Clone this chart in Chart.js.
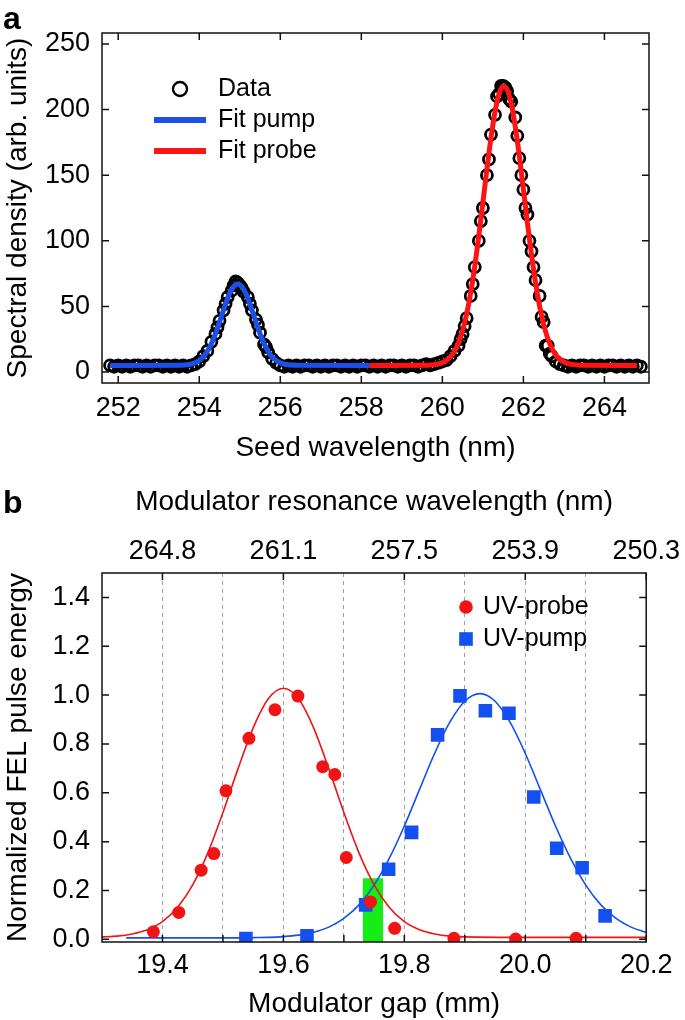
<!DOCTYPE html>
<html><head><meta charset="utf-8">
<script src="https://cdn.jsdelivr.net/npm/chart.js@4.4.1/dist/chart.umd.min.js"></script>
<style>
html,body{margin:0;padding:0;background:#fff;}
body{width:685px;height:1020px;position:relative;overflow:hidden;}
.wrap{position:absolute;left:0;width:685px;}
#w1{top:0;height:475px;}
#w2{top:480px;height:540px;}
.tag{position:absolute;left:3px;font:bold 32px 'Liberation Sans',Arial,sans-serif;line-height:32px;color:#000;}
</style></head><body>
<div class="wrap" id="w1"><canvas id="c1" width="685" height="475"></canvas></div>
<div class="wrap" id="w2"><canvas id="c2" width="685" height="540"></canvas></div>
<div class="tag" style="top:2px">a</div>
<div class="tag" style="top:486px">b</div>
<script>
// ---------- Panel a data ----------
const specWavelength = [251.8,251.9,252.0,252.1,252.2,252.3,252.4,252.5,252.6,252.7,252.8,252.9,253.0,253.1,253.2,253.3,253.4,253.5,253.6,253.7,253.8,253.9,
254.0,254.1,254.2,254.3,254.4,254.45,254.5,254.6,254.65,254.7,254.8,254.85,254.9,254.95,255.0,255.05,255.1,255.2,255.25,255.3,255.4,255.45,255.5,255.6,255.65,255.7,255.8,255.9,
256.0,256.1,256.2,256.3,256.4,256.5,256.6,256.7,256.8,256.9,257.0,257.1,257.2,257.3,257.4,257.5,257.6,257.7,257.8,257.9,258.0,258.1,258.2,258.3,258.4,258.5,258.6,258.7,258.8,258.9,259.0,259.1,259.2,259.3,259.4,259.5,259.6,259.7,
259.8,259.9,260.0,260.1,260.2,260.3,260.4,260.45,260.5,260.55,260.6,260.7,260.75,260.8,260.9,260.95,261.0,261.1,261.15,261.2,261.3,261.35,261.4,261.45,261.5,261.55,261.6,261.65,261.7,261.8,261.85,261.9,261.95,262.0,262.05,262.1,262.15,262.2,262.25,262.3,262.4,262.45,262.5,262.55,262.6,262.65,262.7,262.8,262.9,263.0,
263.1,263.2,263.3,263.4,263.5,263.6,263.7,263.8,263.9,264.0,264.1,264.2,264.3,264.4,264.5,264.6,264.7,264.8,264.9];
const specDensity = [5,4,5,4,5,4,5,5,4,5,4,5,5,4,5,4,5,4,5,4,5,6,
8,12,16,23,29,34,39,47,52,57,62,66,69,68,66,64,61,57,52,47,40,36,30,21,19,15,10,7,
5,4,5,4,5,4,5,5,4,5,4,5,4,5,5,4,5,4,5,4,5,5,4,5,4,5,4,5,5,4,5,4,5,5,4,5,6,5,
6,7,8,9,12,16,20,25,29,35,41,58,67,80,100,115,125,150,162,181,196,210,212,218,218,217,214,208,206,194,180,163,150,139,125,120,100,92,80,70,58,42,38,20,20,14,12,8,6,5,
4,5,4,5,5,4,5,4,5,4,5,5,4,5,4,5,4,5,4];

const pumpFitWavelength = [251.8,253.5,253.7,253.8,253.9,254.0,254.1,254.2,254.3,254.4,254.5,254.6,254.7,254.8,254.9,254.95,255.0,255.1,255.2,255.3,255.4,255.5,255.6,255.7,255.8,255.9,256.0,256.1,256.2,256.4,258.2];
const pumpFitDensity = [5.0,5.1,5.5,6.0,7.0,8.7,11.5,15.7,21.6,29.1,37.9,47.3,56.0,62.8,66.5,67.0,66.5,62.8,56.0,47.3,37.9,29.1,21.6,15.7,11.5,8.7,7.0,6.0,5.5,5.1,5.0];

const probeFitWavelength = [258.2,259.5,259.7,259.8,259.9,260.0,260.1,260.2,260.3,260.4,260.5,260.6,260.7,260.8,260.9,261.0,261.1,261.2,261.3,261.4,261.5,261.6,261.7,261.8,261.9,262.0,262.1,262.2,262.3,262.4,262.5,262.6,262.7,262.8,262.9,263.0,263.1,263.2,263.4,264.8];
const probeFitDensity = [5.0,5.1,5.3,5.6,6.1,7.1,8.8,11.5,15.9,22.3,31.6,44.2,60.5,80.5,103.7,129.0,154.7,178.5,198.4,212.0,217.8,215.3,204.6,187.0,164.5,139.3,113.7,89.5,68.1,50.3,36.2,25.7,18.1,13.0,9.7,7.7,6.4,5.8,5.2,5.0];

const seedTicks = [252,254,256,258,260,262,264];
const seedTickLabels = ['252','254','256','258','260','262','264'];
const densityTicks = [0,50,100,150,200,250];
const densityTickLabels = ['0','50','100','150','200','250'];

// ---------- Panel b data ----------
const probeGap = [19.385,19.427,19.464,19.485,19.505,19.543,19.586,19.624,19.665,19.685,19.704,19.744,19.784,19.882,19.984,20.084];
const probeEnergy = [0.031,0.110,0.283,0.351,0.608,0.823,0.940,0.996,0.707,0.675,0.335,0.153,0.045,0.004,0.001,0.004];
const pumpGap = [19.538,19.639,19.736,19.774,19.812,19.855,19.892,19.934,19.973,20.014,20.052,20.094,20.132];
const pumpEnergy = [0.003,0.014,0.141,0.287,0.438,0.837,0.997,0.936,0.926,0.583,0.373,0.293,0.096];

const probeFitGap = [19.30,19.325,19.35,19.375,19.40,19.425,19.45,19.475,19.50,19.525,19.55,19.575,19.60,19.625,19.65,19.675,19.70,19.725,19.75,19.775,19.80,19.825,19.85,19.875,19.90,20.00,20.20];
const probeFitEnergy = [0.010,0.013,0.022,0.039,0.072,0.131,0.223,0.354,0.519,0.699,0.866,0.985,1.028,0.985,0.866,0.699,0.519,0.354,0.223,0.131,0.072,0.039,0.022,0.013,0.010,0.008,0.008];
const pumpFitGap = [19.34,19.50,19.525,19.55,19.575,19.60,19.625,19.65,19.675,19.70,19.725,19.75,19.775,19.80,19.825,19.85,19.875,19.90,19.925,19.95,19.975,20.00,20.025,20.05,20.075,20.10,20.125,20.15,20.175,20.20];
const pumpFitEnergy = [0.006,0.006,0.006,0.007,0.008,0.011,0.017,0.029,0.050,0.086,0.141,0.222,0.331,0.464,0.613,0.761,0.888,0.975,1.006,0.975,0.888,0.761,0.613,0.464,0.331,0.222,0.141,0.086,0.050,0.029];

const bandGap = [19.731,19.765];
const bandEnergy = [0.25,0.25];

const gapTicks = [19.4,19.5,19.6,19.7,19.8,19.9,20.0,20.1,20.2];
const gapTickLabels = ['19.4','','19.6','','19.8','','20.0','','20.2'];
const resonanceTickPos = [19.4,19.6,19.8,20.0,20.2];
const resonanceTickLabels = ['264.8','261.1','257.5','253.9','250.3'];
const energyTicks = [0,0.2,0.4,0.6,0.8,1.0,1.2,1.4];
const energyTickLabels = ['0.0','0.2','0.4','0.6','0.8','1.0','1.2','1.4'];

// ---------- helpers ----------
const FONT = "'Liberation Sans', Arial, sans-serif";
Chart.defaults.font.family = FONT;
Chart.defaults.color = '#000';
const pts = (xs, ys) => xs.map((x, i) => ({x: x, y: ys[i]}));

const frameTicks = {
  id: 'frameTicks',
  afterDatasetsDraw(chart, args, o) {
    const {ctx, chartArea: a} = chart;
    const xs = chart.scales[o.xScale], ys = chart.scales[o.yScale];
    ctx.save();
    ctx.strokeStyle = '#111';
    ctx.lineWidth = o.lineWidth;
    ctx.beginPath();
    (o.bottom || []).forEach(v => { const x = xs.getPixelForValue(v); ctx.moveTo(x, a.bottom); ctx.lineTo(x, a.bottom - o.len); });
    (o.top || []).forEach(v => { const x = xs.getPixelForValue(v); ctx.moveTo(x, a.top); ctx.lineTo(x, a.top + o.len); });
    (o.left || []).forEach(v => { const y = ys.getPixelForValue(v); ctx.moveTo(a.left, y); ctx.lineTo(a.left + o.len, y); });
    (o.right || []).forEach(v => { const y = ys.getPixelForValue(v); ctx.moveTo(a.right, y); ctx.lineTo(a.right - o.len, y); });
    ctx.stroke();
    ctx.strokeRect(a.left, a.top, a.right - a.left, a.bottom - a.top);
    ctx.restore();
  }
};

const boxLegend = {
  id: 'boxLegend',
  afterDraw(chart, args, o) {
    if (!o || !o.items) return;
    const ctx = chart.ctx;
    ctx.save();
    ctx.font = o.fontSize + 'px ' + FONT;
    ctx.textBaseline = 'middle';
    ctx.textAlign = 'left';
    o.items.forEach((it, k) => {
      const ds = chart.data.datasets[it.ds];
      const y = o.y0 + k * o.dy;
      if (it.marker === 'line') {
        ctx.strokeStyle = ds.borderColor; ctx.lineWidth = o.lineWidth;
        ctx.beginPath(); ctx.moveTo(o.mx - o.lineHalf, y); ctx.lineTo(o.mx + o.lineHalf, y); ctx.stroke();
      } else if (it.marker === 'openCircle') {
        ctx.strokeStyle = '#000'; ctx.lineWidth = 2.4;
        ctx.beginPath(); ctx.arc(o.mx, y, o.r, 0, Math.PI * 2); ctx.stroke();
      } else if (it.marker === 'dot') {
        ctx.fillStyle = ds.pointBackgroundColor;
        ctx.beginPath(); ctx.arc(o.mx, y, o.r, 0, Math.PI * 2); ctx.fill();
      } else if (it.marker === 'square') {
        ctx.fillStyle = ds.pointBackgroundColor;
        ctx.fillRect(o.mx - o.r, y - o.r, 2 * o.r, 2 * o.r);
      }
      ctx.fillStyle = '#000';
      ctx.fillText(ds.label, o.tx, y);
    });
    ctx.restore();
  }
};

const BLUE_A = '#1c50e8', RED_A = '#ff1414';
const BLUE_B = '#1450f0', RED_B = '#f01414', GREEN = '#16ec16';

// ---------- Chart a ----------
new Chart(document.getElementById('c1'), {
  type: 'scatter',
  data: {
    datasets: [
      {label: 'Fit pump', data: pts(pumpFitWavelength, pumpFitDensity), showLine: true, borderColor: BLUE_A, borderWidth: 5, pointRadius: 0, cubicInterpolationMode: 'monotone', order: 1},
      {label: 'Fit probe', data: pts(probeFitWavelength, probeFitDensity), showLine: true, borderColor: RED_A, borderWidth: 5, pointRadius: 0, cubicInterpolationMode: 'monotone', order: 2},
      {label: 'Data', data: pts(specWavelength, specDensity), showLine: false, pointStyle: 'circle', pointRadius: 5.5, pointBorderWidth: 2.8, pointBorderColor: '#000', pointBackgroundColor: 'rgba(0,0,0,0)', order: 3}
    ]
  },
  options: {
    responsive: false, animation: false, devicePixelRatio: 1,
    layout: {padding: {left: 0, right: 36, top: 33, bottom: 0}},
    plugins: {
      legend: {display: false}, tooltip: {enabled: false},
      frameTicks: {xScale: 'x', yScale: 'y', bottom: seedTicks, top: seedTicks, left: densityTicks, right: densityTicks, len: 7, lineWidth: 1.5},
      boxLegend: {items: [{ds: 2, marker: 'openCircle'}, {ds: 0, marker: 'line'}, {ds: 1, marker: 'line'}], mx: 180, tx: 218, y0: 89, dy: 31, r: 7, lineHalf: 26, lineWidth: 6, fontSize: 25}
    },
    scales: {
      x: {
        type: 'linear', position: 'bottom', min: 251.6, max: 265.1,
        afterBuildTicks: s => { s.ticks = seedTicks.map(v => ({value: v})); },
        afterFit: s => { s.height = 92; },
        grid: {display: false, drawTicks: false}, border: {display: false},
        ticks: {font: {size: 27}, color: '#000', padding: 9, maxRotation: 0, autoSkip: false, callback: (v, i) => seedTickLabels[i]},
        title: {display: true, text: 'Seed wavelength (nm)', font: {size: 28}, color: '#000', padding: {top: 0, bottom: 10}}
      },
      y: {
        type: 'linear', position: 'left', min: -8.4, max: 258.4,
        afterBuildTicks: s => { s.ticks = densityTicks.map(v => ({value: v})); },
        afterFit: s => { s.width = 102; },
        grid: {display: false, drawTicks: false}, border: {display: false},
        ticks: {font: {size: 27}, color: '#000', padding: 12, autoSkip: false, callback: (v, i) => densityTickLabels[i]},
        title: {display: true, text: 'Spectral density (arb. units)', font: {size: 28}, color: '#000', padding: {top: 1, bottom: 0}}
      }
    }
  },
  plugins: [frameTicks, boxLegend]
});

// ---------- Chart b ----------
new Chart(document.getElementById('c2'), {
  type: 'scatter',
  data: {
    datasets: [
      {label: 'UV-probe', data: pts(probeGap, probeEnergy), pointStyle: 'circle', pointRadius: 6.5, pointBorderWidth: 0, pointBackgroundColor: RED_B, pointBorderColor: RED_B, order: 1},
      {label: 'UV-pump', data: pts(pumpGap, pumpEnergy), pointStyle: 'rect', pointRadius: 9.6, pointBorderWidth: 0, pointBackgroundColor: BLUE_B, pointBorderColor: BLUE_B, order: 2},
      {label: 'Fit probe', data: pts(probeFitGap, probeFitEnergy), showLine: true, borderColor: RED_B, borderWidth: 1.6, pointRadius: 0, cubicInterpolationMode: 'monotone', order: 3},
      {label: 'Fit pump', data: pts(pumpFitGap, pumpFitEnergy), showLine: true, borderColor: BLUE_B, borderWidth: 1.6, pointRadius: 0, cubicInterpolationMode: 'monotone', order: 4},
      {label: 'Overlap', data: pts(bandGap, bandEnergy), showLine: true, borderWidth: 0, borderColor: GREEN, backgroundColor: GREEN, fill: 'start', pointRadius: 0, order: 5}
    ]
  },
  options: {
    responsive: false, animation: false, devicePixelRatio: 1,
    layout: {padding: {left: 0, right: 36, top: 0, bottom: 0}},
    plugins: {
      legend: {display: false}, tooltip: {enabled: false},
      frameTicks: {xScale: 'x', yScale: 'y', bottom: gapTicks, top: resonanceTickPos, left: energyTicks, right: energyTicks, len: 7, lineWidth: 1.5},
      boxLegend: {items: [{ds: 0, marker: 'dot'}, {ds: 1, marker: 'square'}], mx: 466, tx: 483, y0: 127, dy: 32, r: 6.8, fontSize: 25}
    },
    scales: {
      x: {
        type: 'linear', position: 'bottom', min: 19.3, max: 20.2,
        afterBuildTicks: s => { s.ticks = gapTicks.map(v => ({value: v})); },
        afterFit: s => { s.height = 78; },
        grid: {display: true, drawTicks: false, lineWidth: 1, color: c => (c.tick && c.tick.value > 20.15) ? 'rgba(0,0,0,0)' : '#a0a0a0'},
        border: {display: false, dash: [4, 4]},
        ticks: {font: {size: 27}, color: '#000', padding: 7, maxRotation: 0, autoSkip: false, callback: (v, i) => gapTickLabels[i]},
        title: {display: true, text: 'Modulator gap (mm)', font: {size: 28}, color: '#000', padding: {top: 0, bottom: -1}}
      },
      x2: {
        type: 'linear', position: 'top', min: 19.3, max: 20.2,
        afterBuildTicks: s => { s.ticks = resonanceTickPos.map(v => ({value: v})); },
        afterFit: s => { s.height = 93; },
        grid: {display: false, drawTicks: false}, border: {display: false},
        ticks: {font: {size: 27}, color: '#000', padding: 5, maxRotation: 0, autoSkip: false, callback: (v, i) => resonanceTickLabels[i]},
        title: {display: true, text: 'Modulator resonance wavelength (nm)', font: {size: 28}, color: '#000', padding: {top: 5, bottom: 0}}
      },
      y: {
        type: 'linear', position: 'left', min: -0.011, max: 1.5,
        afterBuildTicks: s => { s.ticks = energyTicks.map(v => ({value: v})); },
        afterFit: s => { s.width = 102; },
        grid: {display: false, drawTicks: false}, border: {display: false},
        ticks: {font: {size: 27}, color: '#000', padding: 12, autoSkip: false, callback: (v, i) => energyTickLabels[i]},
        title: {display: true, text: 'Normalized FEL pulse energy', font: {size: 28}, color: '#000', padding: {top: 1, bottom: 0}}
      }
    }
  },
  plugins: [frameTicks, boxLegend]
});
</script>
</body></html>
